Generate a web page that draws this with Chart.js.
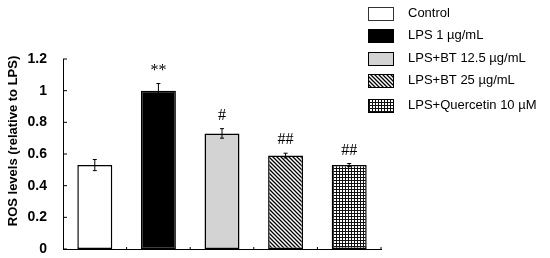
<!DOCTYPE html>
<html>
<head>
<meta charset="utf-8">
<script src="https://cdn.jsdelivr.net/npm/chart.js@4.4.1/dist/chart.umd.min.js"></script>
<style>
  html, body { margin: 0; padding: 0; background: #fff; }
  #wrap { width: 550px; height: 258px; position: relative; }
</style>
</head>
<body>
<div id="wrap"><canvas id="myChart" width="550" height="258"></canvas></div>
<script>
// data
var groups = ["Control", "LPS 1 \u00b5g/mL", "LPS+BT 12.5 \u00b5g/mL", "LPS+BT 25 \u00b5g/mL", "LPS+Quercetin 10 \u00b5M"];
var rosLevels = [0.53, 1.0, 0.73, 0.59, 0.53];
var rosErrors = [0.035, 0.045, 0.03, 0.015, 0.01];
var marks = ["", "**", "#", "##", "##"];
var yTicks = [0, 0.2, 0.4, 0.6, 0.8, 1, 1.2];
var yTitle = 'ROS levels (relative to LPS)';

function makePattern(kind) {
  var c = document.createElement('canvas');
  var ctx = c.getContext('2d');
  if (kind === 'diag') {
    c.width = 4; c.height = 4;
    ctx.fillStyle = '#fff';
    ctx.fillRect(0, 0, 4, 4);
    ctx.strokeStyle = '#000';
    ctx.lineWidth = 1.3;
    ctx.beginPath();
    ctx.moveTo(-1, -1); ctx.lineTo(5, 5);
    ctx.moveTo(-1, 3); ctx.lineTo(1, 5);
    ctx.moveTo(3, -1); ctx.lineTo(5, 1);
    ctx.stroke();
  } else {
    c.width = 3; c.height = 3;
    ctx.fillStyle = '#fff';
    ctx.fillRect(0, 0, 3, 3);
    ctx.fillStyle = '#111';
    ctx.fillRect(0, 0, 3, 1);
    ctx.fillRect(0, 0, 1, 3);
  }
  return ctx.createPattern(c, 'repeat');
}

var fills = ['#ffffff', '#000000', '#d3d3d3', makePattern('diag'), makePattern('grid')];

var extras = {
  id: 'extras',
  afterDatasetsDraw: function(chart) {
    var ctx = chart.ctx;
    var x = chart.scales.x, y = chart.scales.y;
    var meta = chart.getDatasetMeta(0);
    ctx.save();
    // error bars
    ctx.strokeStyle = '#000';
    ctx.lineWidth = 1;
    meta.data.forEach(function(bar, i) {
      var top = y.getPixelForValue(rosLevels[i] + rosErrors[i]);
      var bot = y.getPixelForValue(rosLevels[i] - rosErrors[i]);
      ctx.beginPath();
      ctx.moveTo(bar.x, top); ctx.lineTo(bar.x, bot);
      ctx.moveTo(bar.x - 2, top); ctx.lineTo(bar.x + 2, top);
      ctx.moveTo(bar.x - 2, bot); ctx.lineTo(bar.x + 2, bot);
      ctx.stroke();
      // significance marks
      ctx.fillStyle = '#000';
      ctx.font = '16px "Liberation Serif", "Times New Roman", serif';
      ctx.textAlign = 'center';
      ctx.textBaseline = 'bottom';
      ctx.fillText(marks[i], bar.x, top - 5);
    });
    // small inner ticks on y axis
    yTicks.forEach(function(v) {
      var py = y.getPixelForValue(v);
      ctx.beginPath();
      ctx.moveTo(x.left, py); ctx.lineTo(x.left + 4, py);
      ctx.stroke();
    });
    // small ticks between categories on x axis
    for (var i = 1; i <= groups.length; i++) {
      var px = x.left + (x.right - x.left) * i / groups.length;
      ctx.beginPath();
      ctx.moveTo(px, y.bottom); ctx.lineTo(px, y.bottom - 2);
      ctx.stroke();
    }
    // y axis title (sits a little above the axis middle in the figure)
    ctx.save();
    ctx.translate(13, 141);
    ctx.rotate(-Math.PI / 2);
    ctx.font = 'bold 13px Arial, "Liberation Sans", sans-serif';
    ctx.textAlign = 'center';
    ctx.textBaseline = 'middle';
    ctx.fillStyle = '#000';
    ctx.fillText(yTitle, 0, 0);
    ctx.restore();
    // legend
    var lx = 368, ly = [7, 29, 52, 74, 99];
    ctx.font = '13px "Liberation Sans", Arial, sans-serif';
    ctx.textAlign = 'left';
    ctx.textBaseline = 'middle';
    groups.forEach(function(g, i) {
      ctx.fillStyle = fills[i];
      ctx.fillRect(lx, ly[i], 26, 14);
      ctx.strokeStyle = i === 0 ? '#333' : '#000';
      ctx.lineWidth = 1;
      ctx.strokeRect(lx + 0.5, ly[i] + 0.5, 25, 13);
      ctx.fillStyle = '#000';
      ctx.fillText(g, 408, ly[i] + 6);
    });
    ctx.restore();
  }
};

var ctx = document.getElementById('myChart').getContext('2d');
var chart = new Chart(ctx, {
  type: 'bar',
  data: {
    labels: groups,
    datasets: [{
      label: 'ROS',
      data: rosLevels,
      backgroundColor: fills,
      borderColor: '#000',
      borderWidth: 1.5,
      borderSkipped: false,
      categoryPercentage: 1,
      barPercentage: 0.55
    }]
  },
  options: {
    responsive: false,
    animation: false,
    layout: { padding: { left: 0, right: 169, top: 59, bottom: 9 } },
    plugins: {
      legend: { display: false },
      tooltip: { enabled: false }
    },
    scales: {
      x: {
        afterFit: function(s) { s.height = 0; },
        ticks: { display: false },
        grid: { display: false, drawTicks: false },
        border: { color: '#000', width: 1 }
      },
      y: {
        min: 0,
        max: 1.2,
        afterFit: function(s) { s.width = 63; },
        afterBuildTicks: function(s) { s.ticks = yTicks.map(function(v) { return { value: v }; }); },
        ticks: {
          color: '#000',
          padding: 0,
          callback: function(v) { return String(Math.round(v * 10) / 10); },
          font: { family: 'Arial, "Liberation Sans", sans-serif', size: 14, weight: 'bold' }
        },
        grid: { display: false, drawTicks: true, tickLength: 16 },
        border: { color: '#000', width: 1 }
      }
    }
  },
  plugins: [extras]
});
</script>
</body>
</html>
